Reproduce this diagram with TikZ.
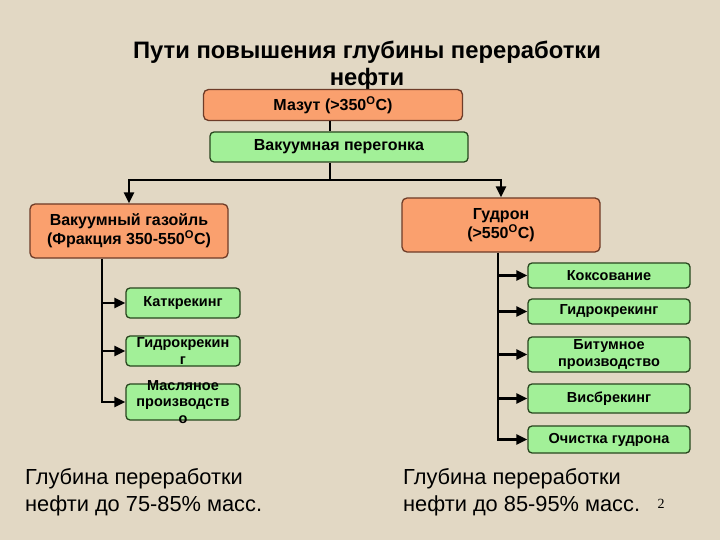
\documentclass[tikz,border=0pt]{standalone}
\usepackage{fontspec}
\setmainfont{Liberation Sans}
\newfontfamily\numfont{Liberation Serif}
\usepackage{tikz}
\usetikzlibrary{arrows.meta,positioning,calc}
\usepackage{xcolor}
\definecolor{paper}{RGB}{226,216,196}
\definecolor{fracorange}{RGB}{250,160,110}
\definecolor{fracborder}{RGB}{110,60,40}
\definecolor{procgreen}{RGB}{162,240,152}
\definecolor{procborder}{RGB}{40,70,30}
\tikzstyle{arrow} = [line width=2.8pt,-{Triangle[length=11pt,width=10pt]}]
\tikzstyle{trunk} = [line width=2.8pt]
\tikzstyle{frac} = [draw=fracborder, line width=1.3pt, fill=fracorange, rounded corners=5pt, align=center, inner sep=1pt, font=\fontsize{16}{19}\selectfont\bfseries]
\tikzstyle{proc} = [draw=procborder, line width=1.3pt, fill=procgreen, rounded corners=4pt, align=center, inner sep=1pt, font=\fontsize{14.5}{17}\selectfont\bfseries]
\tikzstyle{lbl} = [align=center, inner sep=0pt, font=\fontsize{14.5}{16.5}\selectfont\bfseries]

\begin{document}
\begin{tikzpicture}[x=1pt,y=-1pt]
\useasboundingbox[fill=paper] (0,0) rectangle (720,540);

% Title
\node[align=center, font=\fontsize{23.8}{27}\selectfont\bfseries] (title) at (367,66)
  {Пути повышения глубины переработки\\нефти};

% Top of the scheme
\node[frac, minimum width=259pt, minimum height=31pt] (mazut) at (333,105) {Мазут (>350\textsuperscript{O}C)};
\node[proc, minimum width=258pt, minimum height=30pt, font=\fontsize{16}{19}\selectfont\bfseries] (vakuum) at (339,147) {Вакуумная перегонка};

% Fractions
\node[frac, minimum width=198pt, minimum height=54pt] (gasoil) at (129,231) {Вакуумный газойль\\(Фракция 350-550\textsuperscript{O}C)};
\node[frac, minimum width=198pt, minimum height=54pt] (gudron) at (501,225) {Гудрон\\(>550\textsuperscript{O}C)};

% Left processes
\node[proc, minimum width=114pt, minimum height=30pt] (kat) at (183,303) {Каткрекинг};
\node[proc, minimum width=114pt, minimum height=30pt, label={[lbl]center:{Гидрокрекин\\г}}] (gidroL) at (183,351) {};
\node[proc, minimum width=114pt, minimum height=36pt, label={[lbl]center:{Масляное\\производств\\о}}] (masl) at (183,402) {};

% Right processes
\node[proc, minimum width=162pt, minimum height=25pt] (koks) at (609,275.5) {Коксование};
\node[proc, minimum width=162pt, minimum height=25pt] (gidroR) at (609,311.5) {Гидрокрекинг};
\node[proc, minimum width=162pt, minimum height=35pt] (bitum) at (609,354.5) {Битумное\\производство};
\node[proc, minimum width=162pt, minimum height=29pt] (visb) at (609,398.5) {Висбрекинг};
\node[proc, minimum width=162pt, minimum height=27pt] (ochist) at (609,439.5) {Очистка гудрона};

% Connectors
\coordinate (split) at (330,180);
\draw[trunk] (mazut.south -| split) -- (vakuum.north -| split);
\draw[trunk] (vakuum.south -| split) -- (split);
\draw[arrow] (split) -| (gasoil.north);
\draw[arrow] (split) -| (gudron.north);

\coordinate (lbot) at (102,402);
\draw[arrow] (gasoil.south -| lbot) -- (lbot) -- (masl.west);
\foreach \n in {kat,gidroL}
  \draw[arrow] (lbot |- \n.west) -- (\n.west);

\coordinate (rbot) at (498,439.5);
\draw[arrow] (gudron.south -| rbot) -- (rbot) -- (ochist.west);
\foreach \n in {koks,gidroR,bitum,visb}
  \draw[arrow] (rbot |- \n.west) -- (\n.west);

% Notes
\node[anchor=north west, align=left, inner sep=0pt, font=\fontsize{21.8}{27}\selectfont] (depthL) at (25,468)
  {Глубина переработки\\нефти до 75-85\% масс.};
\node[anchor=north west, align=left, inner sep=0pt, font=\fontsize{21.8}{27}\selectfont] (depthR) at (403,468)
  {Глубина переработки\\нефти до 85-95\% масс.};
\node[font=\numfont\fontsize{14}{16}\selectfont] (pagenum) at (661,504) {2};
\end{tikzpicture}
\end{document}
